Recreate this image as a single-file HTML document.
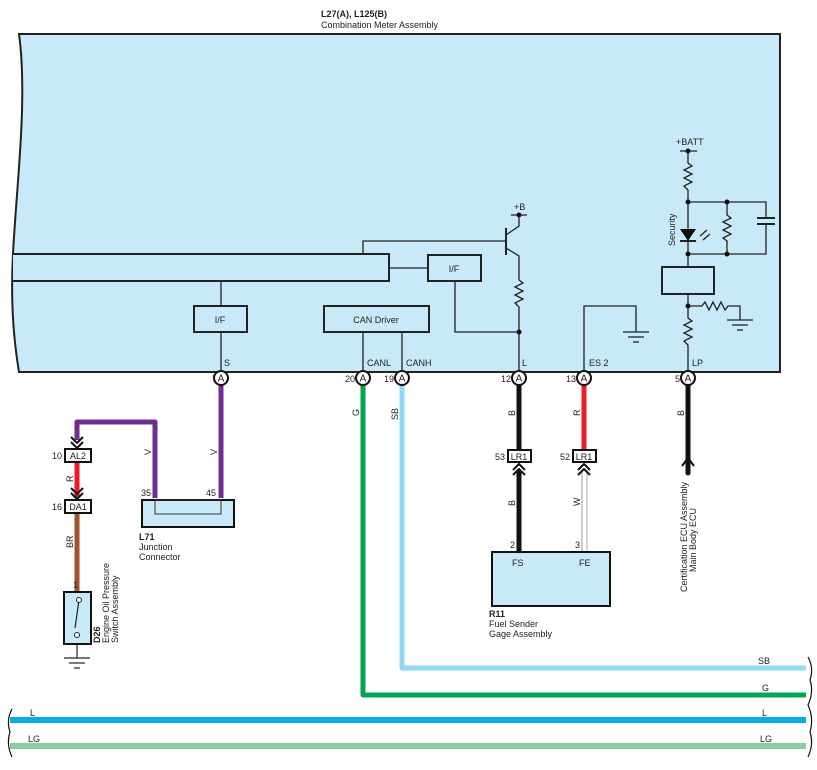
<!DOCTYPE html>
<html><head><meta charset="utf-8"><style>
html,body{margin:0;padding:0;background:#fff;width:817px;height:770px;overflow:hidden}
svg{display:block;font-family:"Liberation Sans",sans-serif}
text{fill:#222}
</style></head><body>
<svg width="817" height="770" viewBox="0 0 817 770" xmlns="http://www.w3.org/2000/svg">
<defs>
<g id="term"><circle r="7" fill="#fff" stroke="#111" stroke-width="2"/><text y="3.5" text-anchor="middle" font-size="10">A</text></g>
</defs>
<text x="321" y="17" font-size="9" font-weight="bold">L27(A), L125(B)</text>
<text x="321" y="28" font-size="9">Combination Meter Assembly</text>
<path d="M19,34 L780,34 L780,372 L19,372 C12,330 11,290 13,254 C16,190 28,100 19,34 Z" fill="#c8e9f8" stroke="#222" stroke-width="2"/>
<g fill="none" stroke="#222" stroke-width="1.3">
<path d="M13,254 H389 V281 H13" stroke-width="2" fill="#c8e9f8"/>
<polyline points="363,254 363,241 506,241"/>
<line x1="506" y1="228" x2="506" y2="255" stroke-width="2"/>
<polyline points="506,235 519,226 519,215"/>
<polyline points="506,248 519,256 519,280"/>
<line x1="511" y1="215" x2="527" y2="215"/>
<polyline points="519,280 523,283 515,287 523,291 515,295 523,299 515,303 519,307 519,372"/>
<line x1="389" y1="268" x2="428" y2="268"/>
<rect x="428" y="255" width="53" height="26" stroke-width="2"/>
<polyline points="455,281 455,332 519,332"/>
<line x1="221" y1="281" x2="221" y2="306"/>
<rect x="194" y="306" width="53" height="26" stroke-width="2"/>
<line x1="221" y1="332" x2="221" y2="372"/>
<rect x="324" y="306" width="105" height="26" stroke-width="2"/>
<line x1="363" y1="332" x2="363" y2="372"/>
<line x1="402" y1="332" x2="402" y2="372"/>
<polyline points="584,372 584,306 636,306 636,332"/>
<line x1="623" y1="332" x2="649" y2="332"/><line x1="628" y1="337" x2="644" y2="337"/><line x1="633" y1="342" x2="639" y2="342"/>
<line x1="680" y1="151" x2="697" y2="151"/>
<polyline points="688,151 688,163 692,166 684,170 692,174 684,178 692,182 684,186 688,190 688,230"/>
<polyline points="688,202 766,202 766,218"/><line x1="757" y1="218" x2="775" y2="218" stroke-width="2"/><line x1="757" y1="224" x2="775" y2="224" stroke-width="2"/><polyline points="766,224 766,254 688,254"/>
<polyline points="727,202 727,215 731,218 723,222 731,226 723,230 731,234 723,238 727,241 727,254"/>
<line x1="680" y1="241" x2="696" y2="241" stroke-width="2"/>
<line x1="688" y1="241" x2="688" y2="267"/>
<rect x="662" y="267" width="52" height="27" stroke-width="2"/>
<polyline points="688,294 688,318 692,321 684,325 692,329 684,333 692,337 684,341 688,345 688,372"/>
<polyline points="688,306 702,306 705,302 709,310 713,302 717,310 721,302 725,310 728,306 740,306 740,320"/>
<line x1="727" y1="320" x2="753" y2="320"/><line x1="732" y1="325" x2="748" y2="325"/><line x1="737" y1="330" x2="743" y2="330"/>
<line x1="700" y1="236" x2="707" y2="230"/><line x1="703" y1="240" x2="710" y2="234"/>
</g>
<polygon points="680,229 696,229 688,241" fill="#111"/>
<g fill="#111">
<circle cx="519" cy="215" r="2.5"/><circle cx="519" cy="332" r="2.5"/>
<circle cx="688" cy="151" r="2.5"/><circle cx="688" cy="202" r="2.5"/><circle cx="727" cy="202" r="2.5"/>
<circle cx="688" cy="254" r="2.5"/><circle cx="727" cy="254" r="2.5"/><circle cx="688" cy="306" r="2.5"/>
</g>
<g font-size="9">
<text x="514" y="210">+B</text><text x="676" y="145">+BATT</text>
<text x="454" y="272" text-anchor="middle">I/F</text>
<text x="220" y="323" text-anchor="middle">I/F</text>
<text x="376" y="323" text-anchor="middle">CAN Driver</text>
<text x="224" y="366">S</text><text x="367" y="366">CANL</text><text x="406" y="366">CANH</text>
<text x="522" y="366">L</text><text x="589" y="366">ES 2</text><text x="692" y="366">LP</text>
<text transform="translate(675,246) rotate(-90)">Security</text>
</g>
<g fill="none" stroke-linejoin="round">
<polyline points="221,385 221,498" stroke="#6f2c91" stroke-width="5"/>
<polyline points="155,498 155,422 77,422 77,440" stroke="#6f2c91" stroke-width="5"/>
<line x1="77" y1="462" x2="77" y2="497" stroke="#ed1c24" stroke-width="5"/>
<line x1="77" y1="513" x2="77" y2="592" stroke="#a0522d" stroke-width="5"/>
<polyline points="363,385 363,695 806,695" stroke="#00a651" stroke-width="5"/>
<polyline points="402,385 402,668 806,668" stroke="#8fd8f8" stroke-width="5"/>
<line x1="519" y1="385" x2="519" y2="450" stroke="#111" stroke-width="5"/>
<line x1="519" y1="470" x2="519" y2="552" stroke="#111" stroke-width="5"/>
<line x1="584" y1="385" x2="584" y2="450" stroke="#ed1c24" stroke-width="5"/>
<line x1="582" y1="470" x2="582" y2="552" stroke="#999" stroke-width="1"/>
<line x1="587" y1="470" x2="587" y2="552" stroke="#bbb" stroke-width="1.2"/>
<line x1="688" y1="385" x2="688" y2="473" stroke="#111" stroke-width="5" stroke-linecap="round"/>
<polyline points="682,466 688,458 694,466" stroke="#111" stroke-width="2"/>
<line x1="10" y1="720" x2="806" y2="720" stroke="#00aeef" stroke-width="6"/>
<line x1="10" y1="746" x2="806" y2="746" stroke="#86cfa0" stroke-width="6"/>
<g stroke="#111" stroke-width="1.2">
<path d="M12,709 Q6,720 10,732 Q6,744 12,757"/>
<path d="M808,657 Q814,668 810,680 Q814,692 808,705 Q814,718 810,732 Q814,744 808,757"/>
</g>
<g stroke="#111" stroke-width="2">
<polyline points="71,437 77,443 83,437"/><polyline points="71,442 77,448 83,442"/>
<polyline points="71,488 77,494 83,488"/><polyline points="71,493 77,499 83,493"/>
<polyline points="513,470 519,464 525,470"/><polyline points="513,475 519,469 525,475"/>
<polyline points="578,470 584,464 590,470"/><polyline points="578,475 584,469 590,475"/>
</g>
</g>
<g stroke="#111" stroke-width="2" fill="#fff">
<rect x="65" y="449" width="26" height="13"/><rect x="65" y="500" width="26" height="13"/>
<rect x="508" y="450" width="23" height="12"/><rect x="573" y="450" width="23" height="12"/>
<rect x="142" y="500" width="92" height="27" fill="#c8e9f8"/>
<rect x="492" y="552" width="118" height="54" fill="#c8e9f8"/>
<rect x="64" y="592" width="27" height="52" fill="#c8e9f8"/>
</g>
<rect x="155" y="500" width="66" height="14" fill="none" stroke="#333" stroke-width="1"/>
<g stroke="#222" stroke-width="1.2" fill="none">
<line x1="77" y1="644" x2="77" y2="658"/><line x1="64" y1="658" x2="90" y2="658"/><line x1="69" y1="663" x2="85" y2="663"/><line x1="74" y1="668" x2="80" y2="668"/>
<line x1="79" y1="600" x2="75" y2="628"/>
</g>
<circle cx="79" cy="600" r="2.5" fill="#fff" stroke="#222"/><circle cx="77" cy="635" r="2.5" fill="#fff" stroke="#222"/>
<g font-size="9">
<text x="78" y="459" text-anchor="middle">AL2</text><text x="78" y="510" text-anchor="middle">DA1</text>
<text x="519" y="460" text-anchor="middle">LR1</text><text x="584" y="460" text-anchor="middle">LR1</text>
<text x="62" y="459" text-anchor="end">10</text><text x="62" y="510" text-anchor="end">16</text>
<text x="505" y="460" text-anchor="end">53</text><text x="570" y="460" text-anchor="end">52</text>
<text x="141" y="496">35</text><text x="206" y="496">45</text>
<text x="73" y="588">1</text><text x="510" y="548">2</text><text x="575" y="548">3</text>
<text x="512" y="566">FS</text><text x="579" y="566">FE</text>
<text x="217" y="382" text-anchor="end">7</text><text x="355" y="382" text-anchor="end">20</text><text x="394" y="382" text-anchor="end">19</text>
<text x="511" y="382" text-anchor="end">12</text><text x="576" y="382" text-anchor="end">13</text><text x="680" y="382" text-anchor="end">5</text>
<text x="139" y="540" font-weight="bold">L71</text><text x="139" y="550">Junction</text><text x="139" y="560">Connector</text>
<text x="489" y="617" font-weight="bold">R11</text><text x="489" y="627">Fuel Sender</text><text x="489" y="637">Gage Assembly</text>
<text x="758" y="664">SB</text><text x="762" y="691">G</text>
<text x="30" y="716">L</text><text x="762" y="716">L</text>
<text x="28" y="742">LG</text><text x="760" y="742">LG</text>
<text transform="translate(151,455) rotate(-90)">V</text><text transform="translate(217,455) rotate(-90)">V</text>
<text transform="translate(73,482) rotate(-90)">R</text><text transform="translate(73,548) rotate(-90)">BR</text>
<text transform="translate(359,416) rotate(-90)">G</text><text transform="translate(398,420) rotate(-90)">SB</text>
<text transform="translate(515,416) rotate(-90)">B</text><text transform="translate(515,506) rotate(-90)">B</text>
<text transform="translate(580,416) rotate(-90)">R</text><text transform="translate(580,506) rotate(-90)">W</text>
<text transform="translate(684,416) rotate(-90)">B</text>
<text transform="translate(687,592) rotate(-90)">Certification ECU Assembly</text>
<text transform="translate(696,572) rotate(-90)">Main Body ECU</text>
<text transform="translate(100,643) rotate(-90)" font-weight="bold">D26</text>
<text transform="translate(109,643) rotate(-90)">Engine Oil Pressure</text>
<text transform="translate(118,643) rotate(-90)">Switch Assembly</text>
</g>
<use href="#term" x="221" y="378"/><use href="#term" x="363" y="378"/><use href="#term" x="402" y="378"/>
<use href="#term" x="519" y="378"/><use href="#term" x="584" y="378"/><use href="#term" x="688" y="378"/>
</svg>
</body></html>
